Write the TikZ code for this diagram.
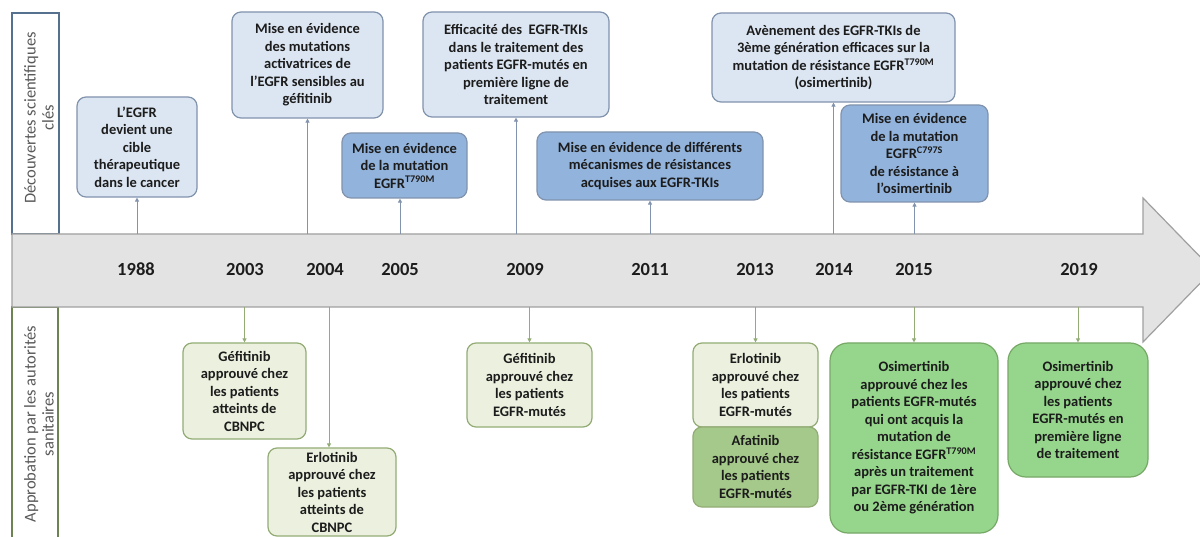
\documentclass[tikz,border=0pt]{standalone}
\usepackage{fontspec}
\setmainfont{Carlito}
\usetikzlibrary{arrows.meta}

\definecolor{bandfill}{HTML}{E3E3E3}
\definecolor{bandline}{HTML}{A0A0A0}
\definecolor{bluelight}{HTML}{DCE6F2}
\definecolor{bluedark}{HTML}{92B3DC}
\definecolor{blueline}{HTML}{8193AD}
\definecolor{greenlight}{HTML}{EBF1DE}
\definecolor{greenmid}{HTML}{A5C98A}
\definecolor{greenbright}{HTML}{96D68C}
\definecolor{greenline}{HTML}{93AC76}
\definecolor{greenbrightline}{HTML}{76A866}
\definecolor{lanetop}{HTML}{56718F}
\definecolor{lanebot}{HTML}{6E8450}
\definecolor{lanetext}{HTML}{595959}
\definecolor{textdark}{HTML}{1C1C1C}

\tikzset{
  evt/.style={rounded corners=9pt, line width=1.2pt, align=center, inner sep=0pt,
    text=textdark, font={\bfseries\fontsize{14.5pt}{17.5pt}\selectfont}},
  discA/.style={evt, draw=blueline, fill=bluelight},
  discB/.style={evt, draw=blueline, fill=bluedark},
  apprA/.style={evt, draw=greenline, fill=greenlight},
  apprB/.style={evt, draw=greenline, fill=greenmid},
  apprC/.style={evt, draw=greenbrightline, fill=greenbright, rounded corners=18pt},
  upcon/.style={draw=blueline, line width=1pt, -{Triangle[length=4pt,width=4pt]}},
  downcon/.style={draw=greenline, line width=1pt, -{Triangle[length=4pt,width=4pt]}},
  yearlbl/.style={font={\bfseries\fontsize{18.5pt}{20pt}\selectfont}, text=textdark},
  lanelbl/.style={rotate=90, align=center, text=lanetext,
    font={\fontsize{16.5pt}{18pt}\selectfont}},
}

\begin{document}
\begin{tikzpicture}[x=1pt, y=-1pt]
\useasboundingbox (0,0) rectangle (1200,537);
\clip (0,0) rectangle (1200,537);
\fill[white] (0,0) rectangle (1200,537);

% lane frames with their rotated titles
\draw[lanetop, line width=1.5pt] (12,13) rectangle (59,234);
\node[lanelbl] (lanetopT) at (39,118) {Découvertes scientifiques\\clés};
\draw[lanebot, line width=1.5pt] (12,307) rectangle (58,540);
\node[lanelbl] (lanebotT) at (39,424) {Approbation par les autorités\\sanitaires};

% time axis arrow
\draw[fill=bandfill, draw=bandline, line width=1.2pt, line join=miter]
  (12,234) -- (1143,234) -- (1143,198) -- (1213,270) -- (1143,342)
  -- (1143,307) -- (12,307) -- cycle;
\coordinate (bandtop) at (0,234);
\coordinate (bandbot) at (0,307);

% years
\node[yearlbl] (y1988) at (136,269) {1988};
\node[yearlbl] (y2003) at (245,269) {2003};
\node[yearlbl] (y2004) at (325,269) {2004};
\node[yearlbl] (y2005) at (400,269) {2005};
\node[yearlbl] (y2009) at (525,269) {2009};
\node[yearlbl] (y2011) at (650,269) {2011};
\node[yearlbl] (y2013) at (755,269) {2013};
\node[yearlbl] (y2014) at (834,269) {2014};
\node[yearlbl] (y2015) at (914,269) {2015};
\node[yearlbl] (y2019) at (1079,269) {2019};

% scientific discoveries
\node[discA, minimum width=120pt, minimum height=100pt] (d1988) at (137,147)
  {L'EGFR\\devient une\\cible\\thérapeutique\\dans le cancer};
\node[discA, minimum width=151pt, minimum height=106pt] (d2004) at (307.5,65)
  {Mise en évidence\\des mutations\\activatrices de\\l'EGFR sensibles au\\géfitinib};
\node[discB, minimum width=125pt, minimum height=65pt] (d2005) at (404.5,165.5)
  {Mise en évidence\\de la mutation\\EGFR\textsuperscript{T790M}};
\node[discA, minimum width=186pt, minimum height=105pt] (d2009) at (516,64.5)
  {Efficacité des \ EGFR-TKIs\\dans le traitement des\\patients EGFR-mutés en\\première ligne de\\traitement};
\node[discB, minimum width=226pt, minimum height=68pt] (d2011) at (650,166)
  {Mise en évidence de différents\\mécanismes de résistances\\acquises aux EGFR-TKIs};
\node[discA, minimum width=243pt, minimum height=89pt] (d2014) at (833.5,57.5)
  {Avènement des EGFR-TKIs de\\3ème génération efficaces sur la\\mutation de résistance EGFR\textsuperscript{T790M}\\(osimertinib)};
\node[discB, minimum width=147pt, minimum height=97pt] (d2015) at (914.5,153.5)
  {Mise en évidence\\de la mutation\\EGFR\textsuperscript{C797S}\\de résistance à\\l'osimertinib};

\foreach \n in {d1988,d2004,d2009,d2011,d2014,d2015}
  \draw[upcon] (\n.south |- bandtop) -- (\n.south);
\draw[upcon] (400,234) -- (d2005.south -| 400,0);

% regulatory approvals
\node[apprA, minimum width=123pt, minimum height=96pt] (a2003) at (244.5,391)
  {Géfitinib\\approuvé chez\\les patients\\atteints de\\CBNPC};
\node[apprA, minimum width=128pt, minimum height=88pt] (a2004) at (332,492)
  {Erlotinib\\approuvé chez\\les patients\\atteints de\\CBNPC};
\node[apprA, minimum width=125pt, minimum height=84pt] (a2009) at (529.5,385)
  {Géfitinib\\approuvé chez\\les patients\\EGFR-mutés};
\node[apprA, minimum width=125pt, minimum height=84pt] (a2013) at (755.5,385)
  {Erlotinib\\approuvé chez\\les patients\\EGFR-mutés};
\node[apprB, minimum width=125pt, minimum height=80pt] (a2013b) at (755.5,467)
  {Afatinib\\approuvé chez\\les patients\\EGFR-mutés};
\node[apprC, minimum width=168pt, minimum height=190pt] (a2015) at (914,438)
  {Osimertinib\\approuvé chez les\\patients EGFR-mutés\\qui ont acquis la\\mutation de\\résistance EGFR\textsuperscript{T790M}\\après un traitement\\par EGFR-TKI de 1ère\\ou 2ème génération};
\node[apprC, minimum width=140pt, minimum height=134pt] (a2019) at (1078,410)
  {Osimertinib\\approuvé chez\\les patients\\EGFR-mutés en\\première ligne\\de traitement};

\foreach \n in {a2003,a2009,a2013,a2015,a2019}
  \draw[downcon] (\n.north |- bandbot) -- (\n.north);
\draw[downcon] (329,307) -- (a2004.north -| 329,0);
\end{tikzpicture}
\end{document}
